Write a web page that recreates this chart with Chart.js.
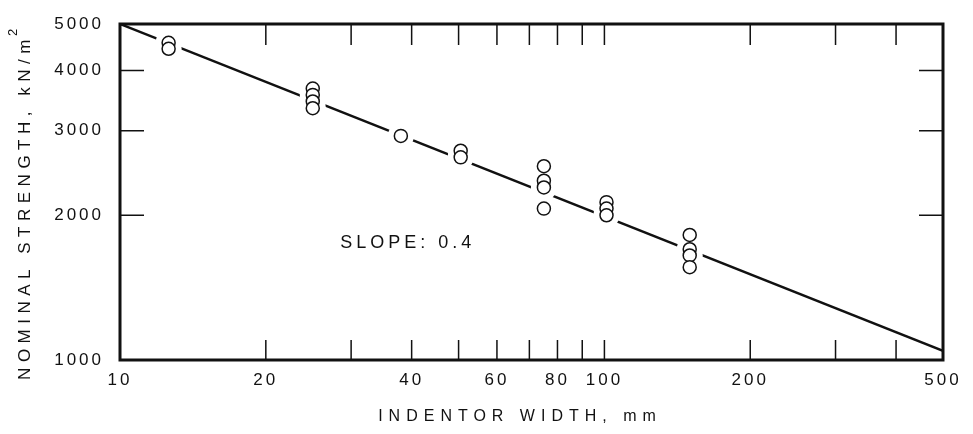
<!DOCTYPE html>
<html>
<head>
<meta charset="utf-8">
<script src="https://cdn.jsdelivr.net/npm/chart.js@4.4.0/dist/chart.umd.min.js"></script>
<style>
  html, body { margin: 0; padding: 0; background: #fff; }
  #wrap { width: 973px; height: 434px; }
</style>
</head>
<body>
<div id="wrap"><canvas id="strength"></canvas></div>
<script>
// indentor width (mm) vs nominal strength (kN/m2)
const widths = [12.6, 12.6, 25, 25, 25, 25, 38, 50.5, 50.5, 75, 75, 75, 75, 101, 101, 101, 150, 150, 150, 150];
const strengths = [4570, 4440, 3670, 3560, 3450, 3340, 2925, 2725, 2640, 2530, 2360, 2285, 2065, 2130, 2065, 2000, 1820, 1700, 1650, 1560];
const fitX = [10, 500];
const fitY = [5000, 1045];
const xLabels = [10, 20, 40, 60, 80, 100, 200, 500];
const xMarks = [20, 30, 40, 50, 60, 70, 80, 90, 100, 200, 300, 400];
const yLabels = [1000, 2000, 3000, 4000, 5000];
const yMarks = [2000, 3000, 4000];
const note = { x: 28.5, y: 1752, text: 'SLOPE: 0.4' };
const xTitle = 'INDENTOR WIDTH, mm';
const yTitle = 'NOMINAL STRENGTH, kN/m';

const pts = widths.map(function(w, i) { return { x: w, y: strengths[i] }; });
const fit = fitX.map(function(w, i) { return { x: w, y: fitY[i] }; });

const FONT = "'Liberation Sans', 'DejaVu Sans', sans-serif";

const framePlugin = {
  id: 'frame',
  beforeDraw: function(chart) {
    chart.ctx.letterSpacing = '3px';
  },
  afterDatasetsDraw: function(chart) {
    const ctx = chart.ctx;
    const a = chart.chartArea;
    const xs = chart.scales.x, ys = chart.scales.y;
    ctx.save();
    ctx.strokeStyle = '#111';
    // inward ticks
    ctx.lineWidth = 1.5;
    ctx.beginPath();
    xMarks.forEach(function(v) {
      const px = xs.getPixelForValue(v);
      ctx.moveTo(px, a.top); ctx.lineTo(px, a.top + 21);
      ctx.moveTo(px, a.bottom); ctx.lineTo(px, a.bottom - 20);
    });
    yMarks.forEach(function(v) {
      const py = ys.getPixelForValue(v);
      ctx.moveTo(a.left, py); ctx.lineTo(a.left + 24, py);
      ctx.moveTo(a.right, py); ctx.lineTo(a.right - 24, py);
    });
    ctx.stroke();
    // frame
    ctx.lineWidth = 3;
    ctx.strokeRect(a.left, a.top, a.right - a.left, a.bottom - a.top);

    ctx.fillStyle = '#111';
    ctx.textBaseline = 'middle';
    // slope note
    ctx.font = '18px ' + FONT;
    ctx.letterSpacing = '4px';
    ctx.textAlign = 'left';
    ctx.fillText(note.text, xs.getPixelForValue(note.x), ys.getPixelForValue(note.y));
    // x title
    ctx.font = '16px ' + FONT;
    ctx.letterSpacing = '6px';
    ctx.textAlign = 'center';
    ctx.fillText(xTitle, 520, 417);
    // y title (rotated) with superscript 2
    ctx.font = '17px ' + FONT;
    ctx.letterSpacing = '5.5px';
    ctx.translate(25, 207);
    ctx.rotate(-Math.PI / 2);
    ctx.textAlign = 'left';
    const w = ctx.measureText(yTitle).width;
    ctx.fillText(yTitle, -w / 2, 0);
    ctx.font = '13px ' + FONT;
    ctx.fillText('2', w / 2 - 2, -12);
    ctx.restore();
  }
};

new Chart(document.getElementById('strength'), {
  type: 'scatter',
  data: {
    datasets: [
      {
        data: pts,
        pointRadius: 6.5,
        pointBorderWidth: 1.5,
        pointBorderColor: '#111',
        pointBackgroundColor: '#fff'
      },
      {
        data: pts,
        pointRadius: 13,
        pointBorderWidth: 0,
        pointBackgroundColor: '#fff',
        pointBorderColor: '#fff'
      },
      {
        data: fit,
        showLine: true,
        borderColor: '#111',
        borderWidth: 2.5,
        pointRadius: 0
      }
    ]
  },
  options: {
    responsive: true,
    maintainAspectRatio: false,
    animation: false,
    layout: { padding: { left: 0, right: 30, top: 24, bottom: 0 } },
    plugins: { legend: { display: false }, tooltip: { enabled: false } },
    scales: {
      x: {
        type: 'logarithmic',
        min: 10,
        max: 500,
        afterBuildTicks: function(s) { s.ticks = xLabels.map(function(v) { return { value: v }; }); },
        afterFit: function(s) { s.height = 74; },
        grid: { display: false },
        border: { display: false },
        ticks: {
          autoSkip: false, maxRotation: 0, padding: 2,
          color: '#111',
          font: { family: FONT, size: 17 },
          callback: function(v) { return String(v); }
        }
      },
      y: {
        type: 'logarithmic',
        min: 1000,
        max: 5000,
        afterBuildTicks: function(s) { s.ticks = yLabels.map(function(v) { return { value: v }; }); },
        afterFit: function(s) { s.width = 120; },
        grid: { display: false },
        border: { display: false },
        ticks: {
          autoSkip: false, padding: 8,
          color: '#111',
          font: { family: FONT, size: 17 },
          callback: function(v) { return String(v); }
        }
      }
    }
  },
  plugins: [framePlugin]
});
</script>
</body>
</html>
